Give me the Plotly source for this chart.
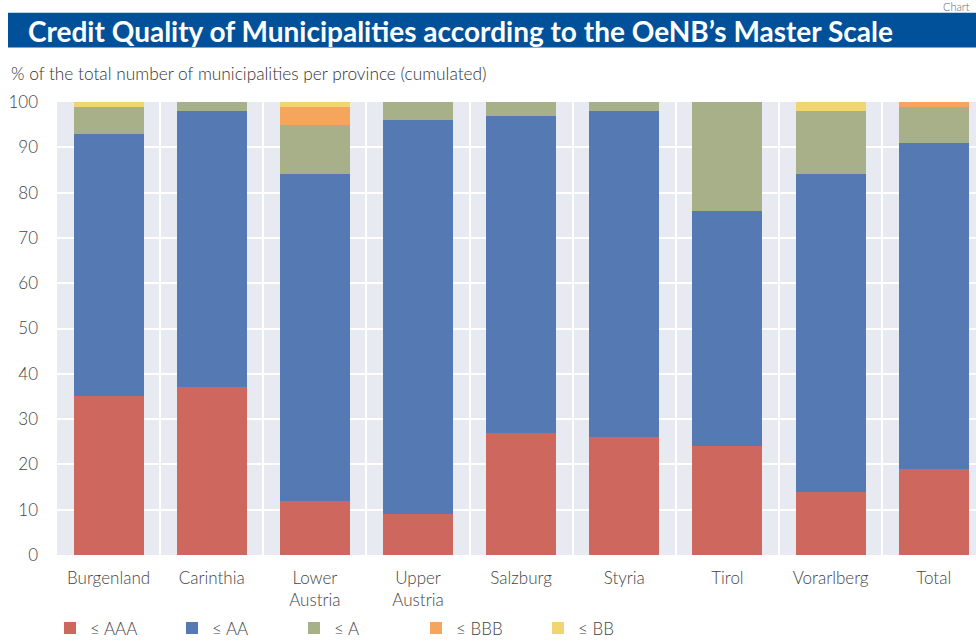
import plotly.graph_objects as go

provinces = ["Burgenland", "Carinthia", "Lower<br>Austria", "Upper<br>Austria", "Salzburg",
             "Styria", "Tirol", "Vorarlberg", "Total"]
series_names = ["≤ AAA", "≤ AA", "≤ A", "≤ BBB", "≤ BB"]
aaa = [35, 37, 12, 9, 27, 26, 24, 14, 19]
aa = [58, 61, 72, 87, 70, 72, 52, 70, 72]
a = [6, 2, 11, 4, 3, 2, 24, 14, 8]
bbb = [0, 0, 4, 0, 0, 0, 0, 0, 1]
bb = [1, 0, 1, 0, 0, 0, 0, 2, 0]
yticks = [0, 10, 20, 30, 40, 50, 60, 70, 80, 90, 100]

colors = ["#CE675E", "#5479B3", "#A7B088", "#F5A65C", "#F2D470"]
values = [aaa, aa, a, bbb, bb]

FONT = "Lato"
W, H = 976, 641
ml, mt, mb = 57, 101.5, 85.5
pw = W - ml
ph = H - mt - mb

fig = go.Figure()
xs = list(range(len(provinces)))
for name, vals, col in zip(series_names, values, colors):
    fig.add_trace(go.Bar(x=xs, y=vals, name=name,
                         marker=dict(color=col, line=dict(width=0)), width=0.68))

def px_x(p):
    return (p - ml) / pw

def px_y(p):
    return (H - mb - p) / ph

tickfont = dict(family=FONT, size=17, color="#444444", weight=300)

fig.update_layout(
    width=W, height=H,
    barmode="stack",
    margin=dict(l=ml, r=0, t=mt, b=mb, autoexpand=False),
    paper_bgcolor="white",
    plot_bgcolor="#E8EAF2",
    font=dict(family=FONT, size=17, color="#444444"),
    showlegend=True,
    legend=dict(orientation="h", x=px_x(50), xanchor="left", y=px_y(629), yanchor="middle",
                font=tickfont, itemwidth=30, traceorder="normal",
                entrywidth=77, entrywidthmode="pixels",
                bgcolor="rgba(0,0,0,0)"),
    xaxis=dict(range=[-0.5, 8.41], tickmode="array", tickvals=xs, ticktext=provinces,
               showgrid=False, zeroline=False, showline=False, ticks="",
               tickfont=tickfont, ticklabelstandoff=11,
               minor=dict(tickmode="array", tickvals=[i + 0.5 for i in range(8)],
                          showgrid=True, gridcolor="white", gridwidth=2)),
    yaxis=dict(range=[0, 100], tickmode="array", tickvals=yticks, showgrid=True,
               gridcolor="white", gridwidth=2, zeroline=False, showline=False,
               ticklabelstandoff=18, tickfont=tickfont),
)

# Title band
fig.add_shape(type="rect", xref="paper", yref="paper",
              x0=px_x(8), x1=px_x(W + 5), y0=px_y(47), y1=px_y(12),
              fillcolor="#00519A", line=dict(width=0), layer="above")
fig.add_annotation(xref="paper", yref="paper", x=px_x(26), y=px_y(30), xanchor="left",
                   yanchor="middle", showarrow=False,
                   text="<b>Credit Quality of Municipalities according to the OeNB’s Master Scale</b>",
                   font=dict(family=FONT, size=28, color="white"))
fig.add_annotation(xref="paper", yref="paper", x=px_x(9), y=px_y(73), xanchor="left",
                   yanchor="middle", showarrow=False,
                   text="% of the total number of municipalities per province (cumulated)",
                   font=dict(family=FONT, size=17.3, color="#333333", weight=300))
fig.add_annotation(xref="paper", yref="paper", x=px_x(972), y=px_y(6), xanchor="right",
                   yanchor="middle", showarrow=False, text="Chart",
                   font=dict(family=FONT, size=11, color="#666666", weight=300))

fig.write_html("out.html", config={"displayModeBar": False},
               post_script="document.body.style.margin='0px';")
